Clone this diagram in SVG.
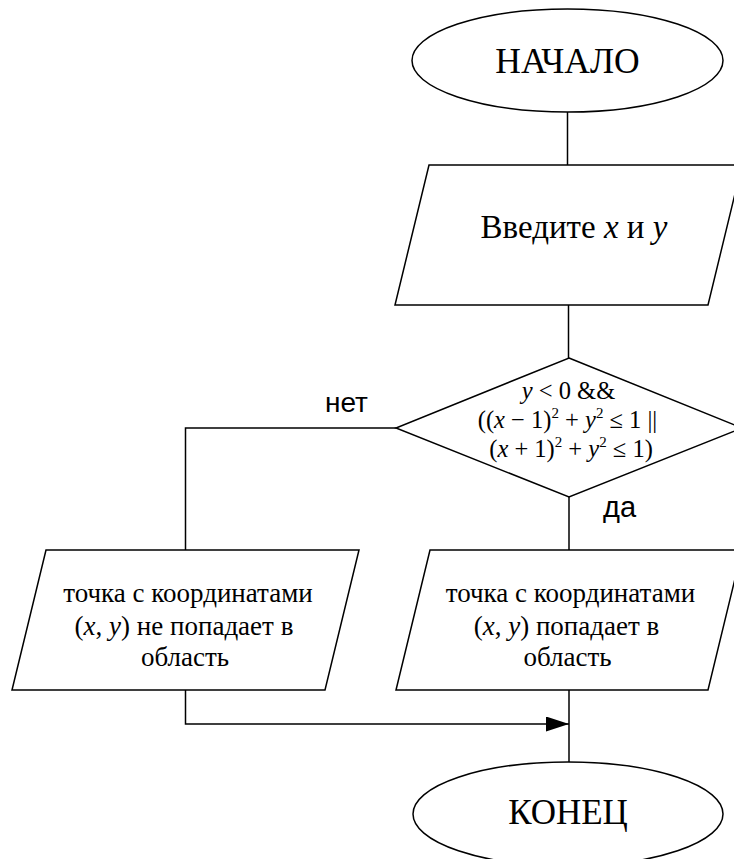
<svg xmlns="http://www.w3.org/2000/svg" width="734" height="859" viewBox="0 0 734 859">
<style>
.s{fill:#fff;stroke:#000;stroke-width:1.5}
.c{fill:none;stroke:#000;stroke-width:1.5}
.t{font-family:"Liberation Serif","Times New Roman",serif;fill:#000;text-anchor:middle}
.l{font-family:"Liberation Sans",Arial,sans-serif;fill:#000}
.i{font-style:italic}
</style>
<defs>
<marker id="arr" markerUnits="userSpaceOnUse" markerWidth="24" markerHeight="16" refX="23" refY="7.5" orient="auto">
<path d="M0,0 L23,7.5 L0,15 z" fill="#000"/>
</marker>
</defs>
<rect width="734" height="859" fill="#fff"/>
<g id="connectors">
<path class="c" d="M567.5,112 V165"/>
<path class="c" d="M568.5,305 V358"/>
<path class="c" d="M569,497 V550"/>
<path class="c" d="M569,690 V762"/>
<path class="c" d="M396,428 H185.5 V550"/>
<path class="c" d="M185.5,690 V724 H569" marker-end="url(#arr)"/>
</g>
<g id="start">
<ellipse class="s" cx="567.5" cy="60.5" rx="155.5" ry="51.5"/>
<text class="t" x="567.5" y="73" font-size="35.5">НАЧАЛО</text>
</g>
<g id="input">
<polygon class="s" points="429,165 742,165 708,305 395,305"/>
<text class="t" x="574" y="238" font-size="33">Введите <tspan class="i">x</tspan> и <tspan class="i">y</tspan></text>
</g>
<g id="decision">
<polygon class="s" points="569,358 742,428 569,497 396,428"/>
<text class="t" x="568.5" y="399" font-size="24.5"><tspan class="i">y</tspan> &lt; 0 &amp;&amp;</text>
<text class="t" x="567.5" y="428" font-size="24.5">((<tspan class="i">x</tspan> − 1)<tspan font-size="15" dy="-10">2</tspan><tspan dy="10"> + </tspan><tspan class="i">y</tspan><tspan font-size="15" dy="-10">2</tspan><tspan dy="10"> ≤ 1 ||</tspan></text>
<text class="t" x="571" y="457" font-size="24.5">(<tspan class="i">x</tspan> + 1)<tspan font-size="15" dy="-10">2</tspan><tspan dy="10"> + </tspan><tspan class="i">y</tspan><tspan font-size="15" dy="-10">2</tspan><tspan dy="10"> ≤ 1)</tspan></text>
</g>
<g id="label-no">
<text class="l" x="325" y="412" font-size="28">нет</text>
</g>
<g id="label-yes">
<text class="l" x="603" y="517" font-size="29">да</text>
</g>
<g id="out-no">
<polygon class="s" points="46,550 359,550 325,690 12,690"/>
<text class="t" x="188" y="602" font-size="27">точка с координатами</text>
<text class="t" x="184" y="635" font-size="27">(<tspan class="i">x</tspan>, <tspan class="i">y</tspan>) не попадает в</text>
<text class="t" x="185" y="666" font-size="27">область</text>
</g>
<g id="out-yes">
<polygon class="s" points="430,550 742,550 708,690 396,690"/>
<text class="t" x="570.5" y="602" font-size="27">точка с координатами</text>
<text class="t" x="566.5" y="635" font-size="27">(<tspan class="i">x</tspan>, <tspan class="i">y</tspan>) попадает в</text>
<text class="t" x="567.5" y="666" font-size="27">область</text>
</g>
<g id="end">
<ellipse class="s" cx="568" cy="814" rx="155" ry="52"/>
<text class="t" x="568" y="824" font-size="35">КОНЕЦ</text>
</g>
</svg>
